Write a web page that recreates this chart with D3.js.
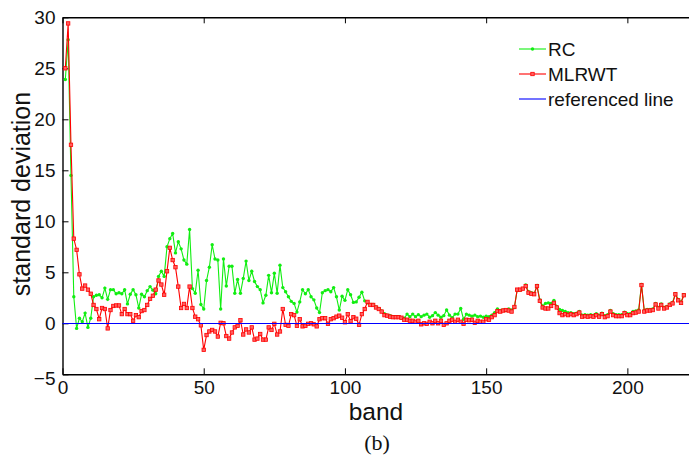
<!DOCTYPE html>
<html>
<head>
<meta charset="utf-8">
<script src="https://cdn.jsdelivr.net/npm/d3@7"></script>
<style>
  html, body { margin: 0; padding: 0; background: #fff; }
  svg { display: block; }
</style>
</head>
<body>
<svg id="chart" width="689" height="459"></svg>
<script>
// ---- data ----
const rcValues = [
  23.9, 27.8, 14.5, 2.6, -0.5, 0.5, 0.15, 1.0, -0.4, 0.5,
  2.6, 2.75, 2.8, 2.5, 3.45, 2.35, 3.3, 3.3, 2.9, 3.0,
  2.9, 3.3, 1.9, 2.85, 3.3, 2.8, 1.5, 2.85, 2.6, 3.2,
  3.6, 3.25, 2.9, 4.6, 5.1, 4.6, 7.5, 8.3, 8.8, 6.9,
  8.0, 7.3, 6.2, 5.8, 9.2, 3.4, 2.95, 5.2, 1.85, 1.4,
  4.2, 5.5, 7.7, 6.3, 6.2, 1.4, 6.3, 3.65, 5.6, 5.6,
  2.95, 4.3, 2.95, 4.4, 6.1, 4.2, 5.1, 4.1, 3.6, 3.3,
  2.0, 2.75, 4.7, 3.0, 4.9, 2.95, 5.7, 3.5, 3.1, 2.6,
  2.15, 1.95, 1.1, 2.1, 3.3, 2.9, 3.3, 2.6, 2.3, 1.5,
  1.05, 3.0, 3.2, 3.3, 3.1, 3.5, 2.6, 1.3, 2.65, 2.25,
  3.3, 2.8, 2.05, 2.1, 2.55, 3.05, 2.2, 2.0, 1.85, 1.85,
  1.6, 1.45, 1.2, 0.95, 0.8, 0.75, 0.65, 0.65, 0.65, 0.55,
  0.5, 0.9, 0.65, 0.9, 0.65, 0.85, 0.65, 0.8, 0.9, 0.6,
  0.75, 1.05, 0.8, 0.6, 0.75, 1.3, 0.8, 0.55, 0.9, 0.9,
  1.45, 0.4, 0.9, 0.8, 0.7, 0.8, 0.65, 0.7, 0.6, 0.7,
  0.65, 0.8, 1.05, 1.4, 1.25, 1.3, 1.25, 1.4, 1.3, 1.55,
  3.3, 3.25, 3.4, 3.75, 3.1, 3.0, 2.9, 3.7, 2.3, 1.7,
  1.95, 2.0, 1.95, 2.25, 1.65, 1.35, 1.25, 1.15, 1.05, 1.05,
  0.95, 1.0, 1.15, 0.8, 0.85, 0.8, 0.85, 0.8, 0.95, 0.8,
  1.0, 0.75, 0.85, 1.25, 0.95, 0.85, 0.85, 0.85, 1.1, 0.95,
  0.95, 1.15, 1.2, 1.3, 3.8, 1.25, 1.35, 1.35, 1.4, 1.95,
  1.55, 1.9, 1.55, 1.65, 1.9, 2.05, 2.9, 2.35, 2.1, 2.8
];
const mlrwtValues = [
  25.0, 29.4, 17.5, 8.3, 7.2, 4.8, 3.4, 3.7, 3.3, 2.9,
  1.8, 1.4, 0.4, 1.5, 1.4, -0.5, 1.3, 1.7, 1.75, 1.75,
  0.9, 1.4, 0.9, 0.9, 0.25, 0.8, 0.6, 1.2, 1.3, 1.8,
  2.4, 2.7, 3.3, 4.2, 3.8, 2.8, 5.1, 7.4, 6.2, 5.5,
  3.6, 1.5, 1.9, 1.5, 3.6, 1.5, 0.65, 0.4, -0.2, -2.6,
  -1.15, -0.8, -0.65, -0.8, -1.3, 0.05, 0.0, -1.25, -1.5, -0.9,
  -0.4, -0.25, 0.3, -1.1, -0.6, -0.9, -0.4, -1.6, -1.5, -1.05,
  -1.6, -1.6, -0.4, -0.65, -0.05, -1.1, -0.8, 1.4, -0.15, -0.25,
  0.9, 0.8, -0.25, 0.4, -0.3, -0.25, -0.05, 0.0, -0.1, -0.3,
  0.4, 0.5, 0.5, -0.05, 0.4, 0.5, 0.65, 0.75, 0.55, 0.1,
  0.9, 0.2, 0.6, 0.45, -0.15, 0.9, 1.4, 2.1, 1.8, 1.8,
  1.55, 1.4, 1.15, 0.8, 0.75, 0.65, 0.6, 0.6, 0.6, 0.55,
  0.35, 0.35, 0.25, 0.25, 0.15, 0.25, -0.1, 0.0, -0.05, 0.15,
  0.0, 0.25, 0.0, 0.25, -0.15, 0.0, 0.25, 0.35, 0.15, 0.35,
  0.15, -0.05, 0.35, 0.3, 0.35, 0.05, 0.25, 0.15, 0.15, 0.4,
  0.35, 0.6, 0.8, 1.2, 1.15, 1.25, 1.3, 1.25, 1.15, 1.6,
  3.3, 3.3, 3.4, 3.65, 3.0, 2.9, 2.85, 3.65, 2.2, 1.55,
  1.45, 1.45, 1.7, 2.0, 1.55, 1.0, 0.8, 0.9, 0.8, 0.9,
  0.8, 0.9, 1.05, 0.65, 0.7, 0.65, 0.7, 0.65, 0.8, 0.65,
  0.9, 0.6, 0.7, 1.15, 0.8, 0.7, 0.7, 0.7, 1.0, 0.8,
  0.8, 1.0, 1.05, 1.15, 3.75, 1.15, 1.25, 1.25, 1.3, 1.85,
  1.45, 1.8, 1.45, 1.55, 1.8, 1.95, 2.85, 2.25, 2.0, 2.75
];
const bands = rcValues.map((_, i) => i + 1);
const xTicks = [0, 50, 100, 150, 200];
const yTicks = [-5, 0, 5, 10, 15, 20, 25, 30];
const referenceValue = 0;
const seriesNames = ["RC", "MLRWT", "referenced line"];
const seriesColors = ["#11ee11", "#ff0000", "#0000ff"];

// ---- layout ----
const svg = d3.select("#chart");
const L = 62.5, R = 689.5, T = 17.3, B = 374.3;
const x = d3.scaleLinear().domain([0, 222]).range([L, R]);
const y = d3.scaleLinear().domain([-5, 30]).range([B, T]);
const font = "'Liberation Sans', Arial, sans-serif";

const g = svg.append("g");

// axes (MATLAB-like box, inward ticks)
const xAxisB = d3.axisBottom(x).tickValues(xTicks).tickSizeInner(-6).tickSizeOuter(0).tickPadding(8).tickFormat(d3.format("d"));
const xAxisT = d3.axisTop(x).tickValues(xTicks).tickSizeInner(-6).tickSizeOuter(0).tickFormat("");
const yAxisL = d3.axisLeft(y).tickValues(yTicks).tickSizeInner(-6).tickSizeOuter(0).tickPadding(7).tickFormat(d3.format("d"));

const gxb = g.append("g").attr("transform", `translate(0,${B})`).call(xAxisB);
const gxt = g.append("g").attr("transform", `translate(0,${T})`).call(xAxisT);
const gyl = g.append("g").attr("transform", `translate(${L},0)`).call(yAxisL);
[gxb, gxt, gyl].forEach(a => {
  a.select(".domain").attr("stroke", "#000").attr("stroke-width", 1.4);
  a.selectAll(".tick line").attr("stroke", "#000").attr("stroke-width", 1);
  a.selectAll("text").attr("font-family", font).attr("font-size", 19).attr("fill", "#111");
});
gxb.selectAll(".tick text").attr("dy", "0.62em");
gyl.selectAll(".tick text").filter(d => d === -5).attr("dy", "0.55em");

// series
const line = d3.line().x(d => x(d[0])).y(d => y(d[1]));
const rcData = bands.map((b, i) => [b, rcValues[i]]);
const mlData = bands.map((b, i) => [b, mlrwtValues[i]]);

g.append("path").datum(rcData).attr("d", line).attr("fill", "none")
  .attr("stroke", seriesColors[0]).attr("stroke-width", 1.1);
g.append("g").selectAll("circle").data(rcData).join("circle")
  .attr("cx", d => x(d[0])).attr("cy", d => y(d[1])).attr("r", 1.7)
  .attr("fill", seriesColors[0]);

g.append("path").datum(mlData).attr("d", line).attr("fill", "none")
  .attr("stroke", seriesColors[1]).attr("stroke-width", 1.1);
g.append("g").selectAll("rect").data(mlData).join("rect")
  .attr("x", d => x(d[0]) - 1.7).attr("y", d => y(d[1]) - 1.7)
  .attr("width", 3.4).attr("height", 3.4)
  .attr("fill", "#ff6060").attr("stroke", seriesColors[1]).attr("stroke-width", 0.8);

// reference line
const y0 = Math.round(y(referenceValue)) + 0.5;
g.append("line").attr("x1", x(0)).attr("x2", R)
  .attr("y1", y0).attr("y2", y0)
  .attr("stroke", seriesColors[2]).attr("stroke-width", 1.2);

// legend
const leg = g.append("g").attr("transform", "translate(519,49)");
seriesNames.forEach((name, i) => {
  const row = leg.append("g").attr("transform", `translate(0,${i * 25})`);
  row.append("line").attr("x1", 0).attr("x2", 27).attr("y1", 0).attr("y2", 0)
    .attr("stroke", seriesColors[i]).attr("stroke-width", 1.1);
  if (i === 0) row.append("circle").attr("cx", 13.5).attr("cy", 0).attr("r", 1.7).attr("fill", seriesColors[0]);
  if (i === 1) row.append("rect").attr("x", 11.8).attr("y", -1.7).attr("width", 3.4).attr("height", 3.4)
    .attr("fill", "#ff6060").attr("stroke", seriesColors[1]).attr("stroke-width", 0.8);
  row.append("text").attr("x", 29).attr("y", 0).attr("dy", "0.36em")
    .attr("font-family", font).attr("font-size", 19).attr("fill", "#111").text(name);
});

// axis titles
svg.append("text").attr("x", 376).attr("y", 420).attr("text-anchor", "middle")
  .attr("font-family", font).attr("font-size", 24.5).attr("fill", "#111").text("band");
svg.append("text").attr("transform", "translate(29.5,194) rotate(-90)").attr("text-anchor", "middle")
  .attr("font-family", font).attr("font-size", 25).attr("fill", "#111").text("standard deviation");
svg.append("text").attr("x", 377).attr("y", 450).attr("text-anchor", "middle")
  .attr("font-family", "'Liberation Serif', 'Times New Roman', serif").attr("font-size", 22).attr("fill", "#111").text("(b)");
</script>
</body>
</html>
